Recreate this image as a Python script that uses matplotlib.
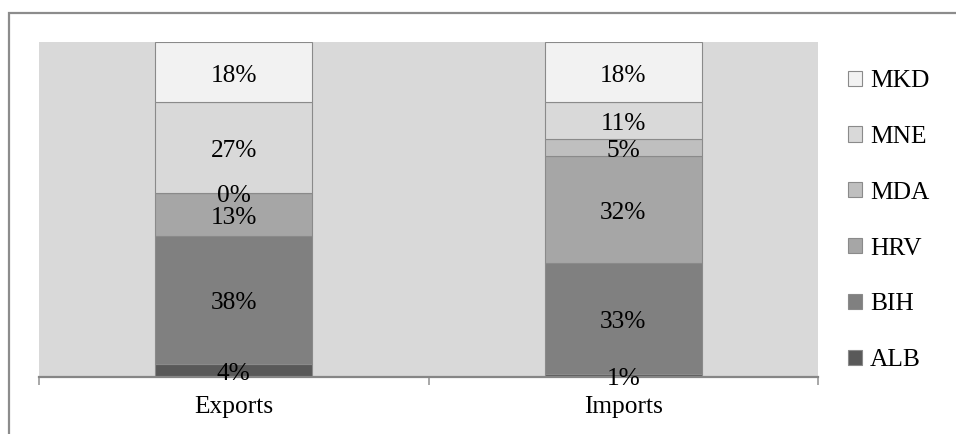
import numpy as np
import matplotlib.pyplot as plt
from matplotlib.patches import Rectangle

# data (shares in %)
groups = ["Exports", "Imports"]
countries = ["ALB", "BIH", "HRV", "MDA", "MNE", "MKD"]
exports = [4, 38, 13, 0, 27, 18]
imports = [1, 33, 32, 5, 11, 18]
colors = ["#595959", "#808080", "#a6a6a6", "#bfbfbf", "#d9d9d9", "#f2f2f2"]

plt.rcParams['font.family'] = ['Liberation Serif', 'DejaVu Serif']
fs = 18.3

fig = plt.figure(figsize=(9.56, 4.34), dpi=100)
ax = fig.add_axes([39 / 956, 1 - 377 / 434, (818 - 39) / 956, (377 - 42) / 434])
ax.set_facecolor("#d9d9d9")

# outer border of the chart (runs off right and bottom)
fig.patches.append(Rectangle((9 / 956, -0.2), 1.2, 1 - 13 / 434 + 0.2,
                             transform=fig.transFigure, fill=False,
                             edgecolor="#8c8c8c", lw=1.6))

vals = np.array([exports, imports])
x = np.arange(len(groups))
bottom = np.zeros(len(groups))
handles = []
for i, c in enumerate(countries):
    v = vals[:, i]
    b = ax.bar(x, v, 0.403, bottom=bottom, color=colors[i],
               edgecolor="#8a8a8a", linewidth=0.8, label=c)
    handles.append(b)
    for xi, vi, bi in zip(x, v, bottom):
        ax.annotate(f"{vi}%", (xi, bi + vi / 2), xytext=(0, -2.5),
                    textcoords="offset points", ha="center", va="center",
                    fontsize=fs, color="black")
    bottom += v

ax.set_xlim(-0.5, 1.5)
ax.set_ylim(0, 100)
ax.set_yticks([])
for s in ["top", "right", "left"]:
    ax.spines[s].set_visible(False)
ax.spines["bottom"].set_color("#868686")
ax.spines["bottom"].set_linewidth(1.6)
ax.set_xticks(x)
ax.set_xticklabels(groups, fontsize=fs)
ax.tick_params(axis="x", which="major", length=0, pad=14)
ax.set_xticks([-0.5, 0.5, 1.5], minor=True)
ax.tick_params(axis="x", which="minor", length=6, width=1.2, color="#9a9a9a")

leg = fig.legend(handles[::-1], countries[::-1], loc="upper left",
                 bbox_to_anchor=(838 / 956, 1 - 60 / 434), frameon=False,
                 fontsize=fs, handlelength=0.55, handleheight=0.55,
                 handletextpad=0.3, labelspacing=1.33, borderaxespad=0)

fig.savefig("out.png", dpi=100)
